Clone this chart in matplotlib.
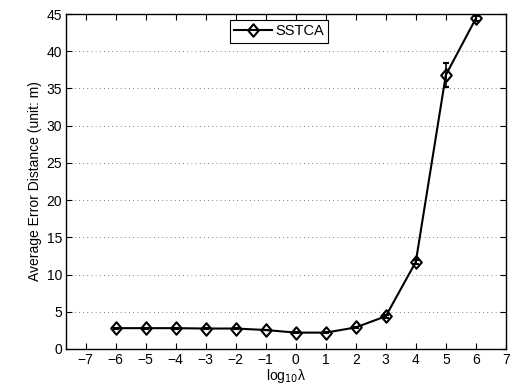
import matplotlib
matplotlib.use("Agg")
import matplotlib.pyplot as plt
from matplotlib.path import Path
from matplotlib.lines import Line2D

plt.rcParams['font.family'] = ['Liberation Sans', 'DejaVu Sans']

log_lambda = [-6, -5, -4, -3, -2, -1, 0, 1, 2, 3, 4, 5, 6]
avg_error = [2.8, 2.8, 2.8, 2.75, 2.75, 2.55, 2.2, 2.2, 2.9, 4.4, 11.7, 36.8, 44.4]
err = [0.05, 0.05, 0.05, 0.05, 0.05, 0.05, 0.05, 0.05, 0.1, 0.2, 0.3, 1.6, 0.4]
xticks = list(range(-7, 8))
yticks = list(range(0, 50, 5))

# slightly tall diamond marker
diamond = Path([(0, 1), (0.85, 0), (0, -1), (-0.85, 0), (0, 1)],
               [Path.MOVETO, Path.LINETO, Path.LINETO, Path.LINETO, Path.CLOSEPOLY])

fig = plt.figure(figsize=(5.12, 3.92), dpi=100)
ax = fig.add_axes([0.129, 0.1097, 0.859, 0.8545])

style = dict(color='black', lw=1.5, marker=diamond, markersize=9,
             markerfacecolor='none', markeredgecolor='black', markeredgewidth=1.5)
ax.errorbar(log_lambda, avg_error, yerr=err, capsize=2, elinewidth=1.2, **style)

ax.set_xlim(-7.65, 7)
ax.set_ylim(0, 45)
ax.set_xticks(xticks)
ax.set_yticks(yticks)
ax.set_xticklabels([str(t).replace('-', '\u2212') for t in xticks])
ax.yaxis.grid(True, linestyle=(0, (1, 4)), color='#555555', lw=0.6)
ax.tick_params(direction='in', top=True, right=True, labelsize=10, length=4, width=0.8, pad=3)
for s in ax.spines.values():
    s.set_linewidth(1.0)

ax.set_xlabel('log$_{10}$\u03bb', fontsize=10, labelpad=0)
ax.set_ylabel('Average Error Distance (unit: m)', fontsize=10, labelpad=3)

handle = Line2D([], [], **style)
leg = ax.legend([handle], ['SSTCA'], loc='upper center', bbox_to_anchor=(0.484, 0.995),
                fontsize=10.5, fancybox=False, framealpha=1, edgecolor='black',
                handlelength=2.6, borderpad=0.3, handletextpad=0.2, borderaxespad=0.3)
leg.get_frame().set_linewidth(0.8)

fig.savefig('out.png', dpi=100)
